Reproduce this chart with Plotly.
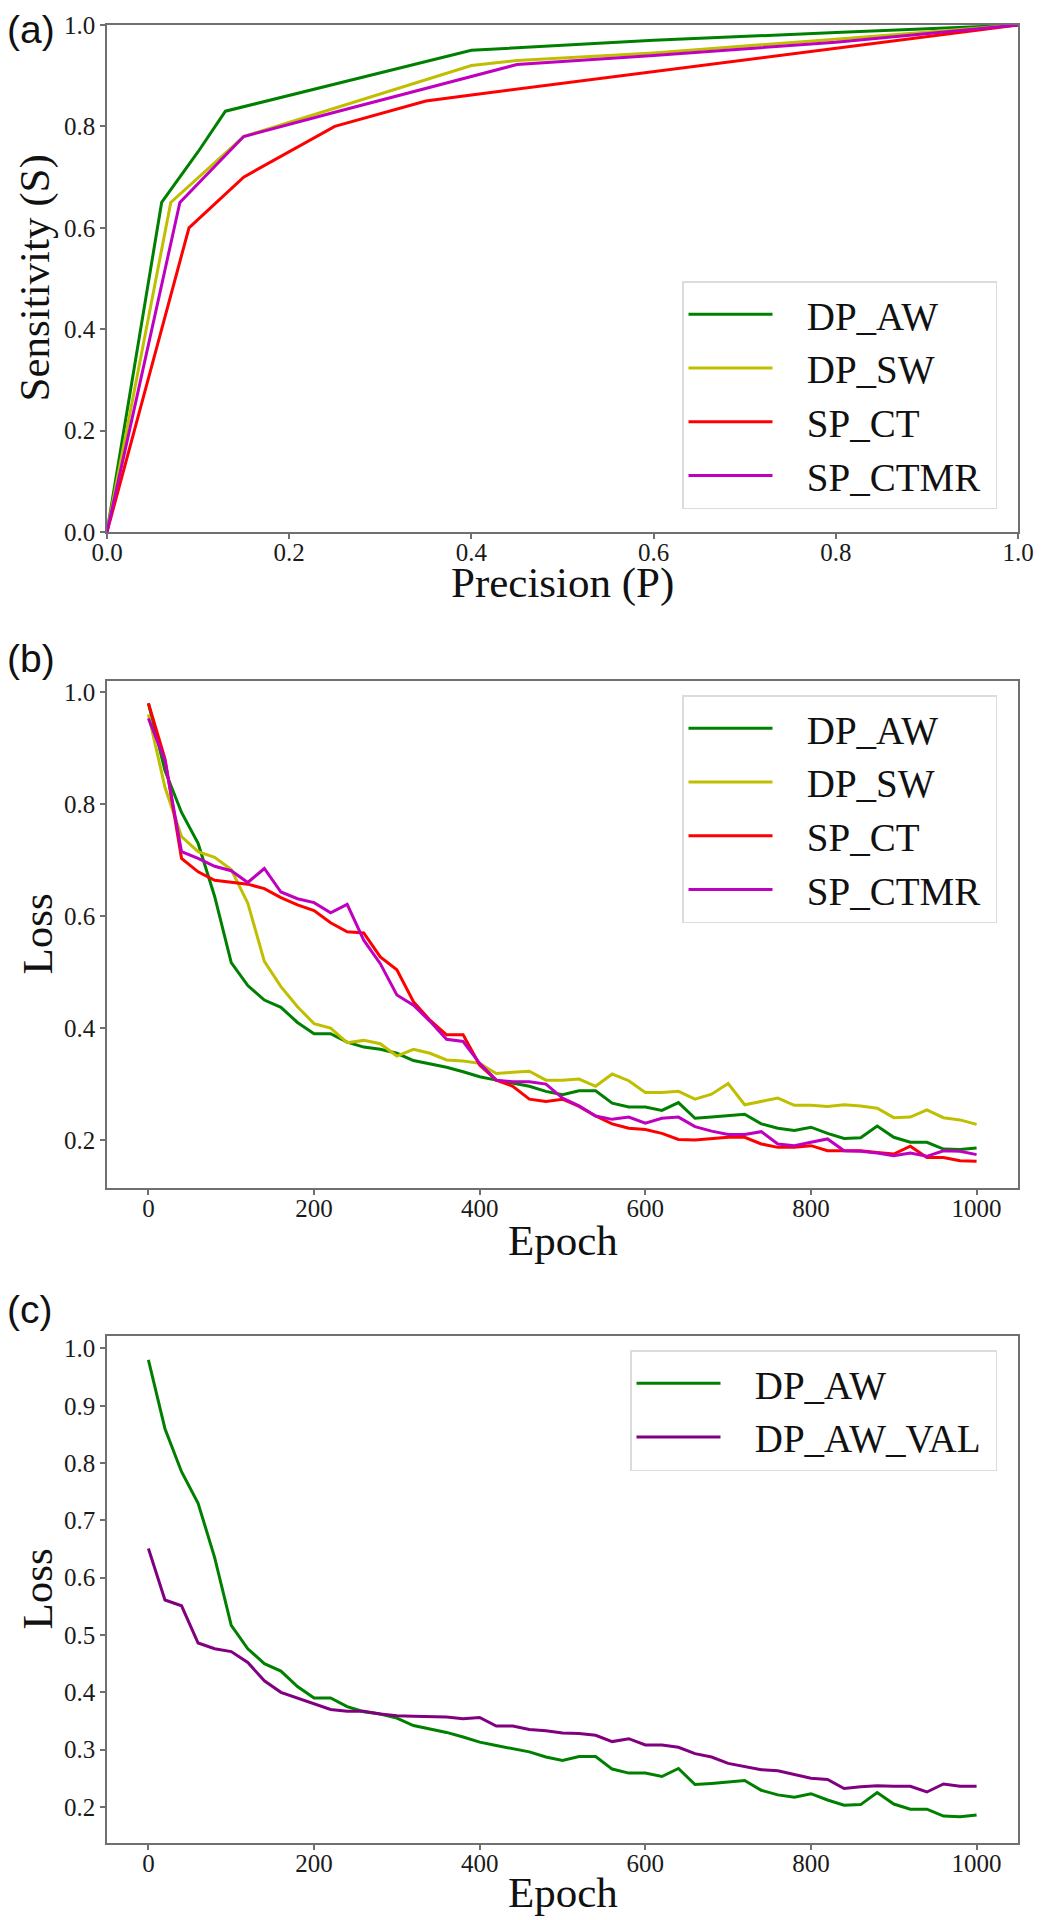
import plotly.graph_objects as go

# ---------------- data ----------------
# panel (a): precision-sensitivity curves
p_dp_aw = [0, 0.06, 0.10, 0.13, 0.40, 0.45, 0.60, 0.80, 1.00]
s_dp_aw = [0, 0.65, 0.75, 0.83, 0.95, 0.955, 0.97, 0.985, 1.00]
p_dp_sw = [0, 0.07, 0.15, 0.40, 0.45, 0.60, 0.80, 1.00]
s_dp_sw = [0, 0.65, 0.78, 0.92, 0.93, 0.945, 0.972, 1.00]
p_sp_ct = [0, 0.09, 0.15, 0.25, 0.35, 0.40, 1.00]
s_sp_ct = [0, 0.60, 0.70, 0.80, 0.85, 0.862, 1.00]
p_sp_ctmr = [0, 0.08, 0.15, 0.25, 0.45, 0.60, 0.80, 1.00]
s_sp_ctmr = [0, 0.65, 0.78, 0.828, 0.922, 0.94, 0.966, 1.00]

# panels (b), (c): loss per epoch
epochs = list(range(0, 1001, 20))
loss_dp_aw = [0.98, 0.86, 0.785, 0.73, 0.635, 0.517, 0.476, 0.45, 0.437, 0.41,
              0.39, 0.39, 0.375, 0.366, 0.362, 0.355, 0.342, 0.336, 0.33, 0.322,
              0.313, 0.307, 0.302, 0.296, 0.287, 0.281, 0.288, 0.288, 0.266, 0.259,
              0.259, 0.253, 0.267, 0.239, 0.241, 0.243, 0.246, 0.229, 0.221, 0.217,
              0.223, 0.212, 0.203, 0.204, 0.225, 0.205, 0.196, 0.196, 0.184, 0.183,
              0.186]
loss_dp_sw = [0.96, 0.83, 0.742, 0.715, 0.705, 0.683, 0.623, 0.519, 0.474, 0.438,
              0.408, 0.40, 0.374, 0.378, 0.372, 0.35, 0.362, 0.355, 0.343, 0.341,
              0.337, 0.319, 0.321, 0.323, 0.307, 0.307, 0.309, 0.296, 0.318, 0.306,
              0.285, 0.285, 0.287, 0.273, 0.282, 0.301, 0.263, 0.269, 0.275, 0.262,
              0.262, 0.26, 0.263, 0.261, 0.257, 0.24, 0.241, 0.254, 0.24, 0.236,
              0.228]
loss_sp_ct = [0.98, 0.881, 0.703, 0.679, 0.664, 0.66, 0.657, 0.649, 0.633, 0.62,
              0.61, 0.588, 0.572, 0.57, 0.527, 0.504, 0.447, 0.414, 0.388, 0.388,
              0.334, 0.307, 0.296, 0.273, 0.269, 0.273, 0.26, 0.243, 0.229, 0.221,
              0.219, 0.212, 0.201, 0.20, 0.202, 0.205, 0.205, 0.193, 0.187, 0.187,
              0.19, 0.181, 0.181, 0.181, 0.178, 0.175, 0.189, 0.169, 0.169, 0.163,
              0.162]
loss_sp_ctmr = [0.953, 0.878, 0.715, 0.703, 0.689, 0.681, 0.66, 0.685, 0.643, 0.631,
                0.624, 0.606, 0.621, 0.557, 0.515, 0.459, 0.441, 0.412, 0.38, 0.376,
                0.337, 0.307, 0.304, 0.304, 0.30, 0.275, 0.261, 0.243, 0.237, 0.241,
                0.23, 0.239, 0.241, 0.224, 0.216, 0.21, 0.21, 0.215, 0.193, 0.19,
                0.196, 0.202, 0.181, 0.18, 0.177, 0.172, 0.177, 0.171, 0.181, 0.18,
                0.174]
loss_dp_aw_val = [0.651, 0.561, 0.551, 0.486, 0.476, 0.471, 0.452, 0.42, 0.40, 0.39,
                  0.38, 0.37, 0.367, 0.367, 0.362, 0.359, 0.358, 0.357, 0.357, 0.354,
                  0.356, 0.341, 0.341, 0.335, 0.333, 0.329, 0.328, 0.325, 0.314, 0.319,
                  0.308, 0.308, 0.304, 0.293, 0.287, 0.276, 0.271, 0.265, 0.263, 0.257,
                  0.25, 0.248, 0.232, 0.235, 0.237, 0.236, 0.236, 0.226, 0.24, 0.236,
                  0.236]

pr_ticks = [0, 0.2, 0.4, 0.6, 0.8, 1.0]
epoch_ticks = [0, 200, 400, 600, 800, 1000]
loss_ticks_b = [0.2, 0.4, 0.6, 0.8, 1.0]
loss_ticks_c = [0.2, 0.3, 0.4, 0.5, 0.6, 0.7, 0.8, 0.9, 1.0]

# ---------------- styling ----------------
W, H = 1041, 1920
GREEN, YELLOW, RED, MAGENTA, PURPLE = '#008000', '#bfbf00', '#ff0000', '#bf00bf', '#800080'
SERIF = 'Liberation Serif, Times New Roman, serif'
SANS = 'Liberation Sans, Arial, sans-serif'
LW = 3
NB = '\u00a0'

fig = go.Figure()

def add(x, y, name, color, xa, ya, leg):
    fig.add_trace(go.Scatter(x=x, y=y, mode='lines', name=NB * 3 + name + NB,
                             line=dict(color=color, width=LW),
                             xaxis=xa, yaxis=ya, legend=leg))

add(p_dp_aw, s_dp_aw, 'DP_AW', GREEN, 'x', 'y', 'legend')
add(p_dp_sw, s_dp_sw, 'DP_SW', YELLOW, 'x', 'y', 'legend')
add(p_sp_ct, s_sp_ct, 'SP_CT', RED, 'x', 'y', 'legend')
add(p_sp_ctmr, s_sp_ctmr, 'SP_CTMR', MAGENTA, 'x', 'y', 'legend')

add(epochs, loss_dp_aw, 'DP_AW', GREEN, 'x2', 'y2', 'legend2')
add(epochs, loss_dp_sw, 'DP_SW', YELLOW, 'x2', 'y2', 'legend2')
add(epochs, loss_sp_ct, 'SP_CT', RED, 'x2', 'y2', 'legend2')
add(epochs, loss_sp_ctmr, 'SP_CTMR', MAGENTA, 'x2', 'y2', 'legend2')

add(epochs, loss_dp_aw, 'DP_AW', GREEN, 'x3', 'y3', 'legend3')
add(epochs, loss_dp_aw_val, 'DP_AW_VAL', PURPLE, 'x3', 'y3', 'legend3')

XL, XR = 107, 1018
xdom = [XL / W, XR / W]
def ydom(top, bottom):
    return [1 - bottom / H, 1 - top / H]

axis_common = dict(showline=True, mirror=True, linecolor='#707070', linewidth=1.5,
                   ticks='outside', ticklen=5, tickwidth=1.5, tickcolor='#707070',
                   showgrid=False, zeroline=False, automargin=False,
                   tickfont=dict(family=SERIF, size=25, color='#1a1a1a'))
xaxis_extra = dict(ticklabelstandoff=-8)

layout = dict(
    template='none',
    font=dict(family=SERIF, color='#111111'),
    width=W, height=H, autosize=False,
    margin=dict(l=0, r=0, t=0, b=0, pad=0),
    paper_bgcolor='white', plot_bgcolor='white',
    showlegend=True,
    xaxis=dict(domain=xdom, anchor='y', range=[0, 1], tickvals=pr_ticks, tickformat='.1f',
               **xaxis_extra, **axis_common),
    yaxis=dict(domain=ydom(25, 532), anchor='x', range=[0, 1], tickvals=pr_ticks, tickformat='.1f',
               **axis_common),
    xaxis2=dict(domain=xdom, anchor='y2', range=[-50, 1050], tickvals=epoch_ticks,
                **xaxis_extra, **axis_common),
    yaxis2=dict(domain=ydom(681, 1188), anchor='x2', range=[0.1144, 1.0198], tickvals=loss_ticks_b,
                tickformat='.1f', **axis_common),
    xaxis3=dict(domain=xdom, anchor='y3', range=[-50, 1050], tickvals=epoch_ticks,
                **xaxis_extra, **axis_common),
    yaxis3=dict(domain=ydom(1336, 1843), anchor='x3', range=[0.137, 1.0218], tickvals=loss_ticks_c,
                tickformat='.1f', **axis_common),
)

legend_common = dict(xanchor='right', yanchor='top', bgcolor='white', bordercolor='#dcdcdc',
                     borderwidth=1.5, font=dict(family=SERIF, size=39, color='#111111'),
                     itemwidth=84, tracegroupgap=0, xref='paper', yref='paper')
layout['legend'] = dict(x=997 / W, y=1 - 281 / H, **legend_common)
layout['legend2'] = dict(x=997 / W, y=1 - 695 / H, **legend_common)
layout['legend3'] = dict(x=997 / W, y=1 - 1350 / H, **legend_common)

ann = []
# panel labels
for t, yc in [('(a)', 29), ('(b)', 658), ('(c)', 1309)]:
    ann.append(dict(text=t, x=5 / W, y=1 - yc / H, xref='paper', yref='paper',
                    xanchor='left', yanchor='middle', showarrow=False,
                    font=dict(family=SANS, size=39, color='#111111')))
# axis titles
tfont = dict(family=SERIF, size=43, color='#111111')
xc = (XL + XR) / 2 / W
for t, yc in [('Precision (P)', 583), ('Epoch', 1240), ('Epoch', 1892)]:
    ann.append(dict(text=t, x=xc, y=1 - yc / H, xref='paper', yref='paper',
                    xanchor='center', yanchor='middle', showarrow=False, font=tfont))
for t, xcen, (top, bot) in [('Sensitivity (S)', 35, (25, 532)), ('Loss', 37, (681, 1188)),
                            ('Loss', 37, (1336, 1843))]:
    ann.append(dict(text=t, x=xcen / W, y=1 - (top + bot) / 2 / H, xref='paper', yref='paper',
                    xanchor='center', yanchor='middle', textangle=-90, showarrow=False, font=tfont))
layout['annotations'] = ann

fig.update_layout(**layout)
fig.write_html('out.html', config={'displayModeBar': False},
               post_script="document.body.style.margin='0';")
